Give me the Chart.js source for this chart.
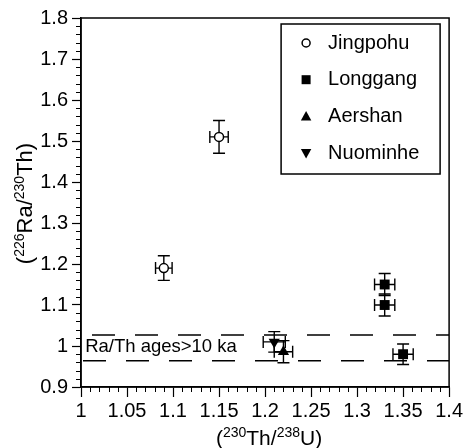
<!DOCTYPE html>
<html>
<head>
<meta charset="utf-8">
<script src="https://cdn.jsdelivr.net/npm/chart.js@4.4.0/dist/chart.umd.min.js"></script>
<style>
  body { margin: 0; background: #fff; }
  #wrap { width: 465px; height: 448px; }
</style>
</head>
<body>
<div id="wrap"><canvas id="myChart"></canvas></div>
<script>
// values
const seriesNames = ['Jingpohu', 'Longgang', 'Aershan', 'Nuominhe']

const jingpohuX = [1.09, 1.15]
const jingpohuY = [1.19, 1.51]
const jingpohuErrX = [0.009, 0.01]
const jingpohuErrY = [0.03, 0.04]

const longgangX = [1.33, 1.33, 1.35]
const longgangY = [1.15, 1.10, 0.98]
const longgangErrX = [0.011, 0.011, 0.011]
const longgangErrY = [0.027, 0.027, 0.025]

const aershanX = [1.22]
const aershanY = [0.986]
const aershanErrX = [0.01]
const aershanErrY = [0.027]

const nuominheX = [1.21]
const nuominheY = [1.01]
const nuominheErrX = [0.012]
const nuominheErrY = [0.025]

// Ra/Th equilibrium band
const bandUpper = 1.027
const bandLower = 0.964
const bandText = 'Ra/Th ages>10 ka'

const xTitle = [['(', 0], ['230', 1], ['Th/', 0], ['238', 1], ['U)', 0]]
const yTitle = [['(', 0], ['226', 1], ['Ra/', 0], ['230', 1], ['Th)', 0]]

const FONT = '"Liberation Sans", Arial, sans-serif'

function pts(xs, ys){
    return xs.map((x, i) => ({x: x, y: ys[i]}))
}

function drawMarker(ctx, style, x, y, r){
    ctx.save()
    ctx.beginPath()
    if (style === 'circle'){
        ctx.arc(x, y, r, 0, Math.PI * 2)
        ctx.fillStyle = '#fff'
        ctx.fill()
        ctx.lineWidth = 1.5
        ctx.strokeStyle = '#000'
        ctx.stroke()
    } else if (style === 'rect'){
        ctx.fillStyle = '#000'
        ctx.fillRect(x - r, y - r, 2 * r, 2 * r)
    } else {
        const d = style === 'up' ? 1 : -1
        ctx.moveTo(x, y - d * r)
        ctx.lineTo(x + r * 0.95, y + d * r * 0.75)
        ctx.lineTo(x - r * 0.95, y + d * r * 0.75)
        ctx.closePath()
        ctx.fillStyle = '#000'
        ctx.fill()
    }
    ctx.restore()
}

function drawSupText(ctx, parts, size, supSize){
    // draws centred at 0, baseline 0
    let w = 0
    parts.forEach(p => {
        ctx.font = (p[1] ? supSize : size) + 'px ' + FONT
        w += ctx.measureText(p[0]).width
    })
    let x = -w / 2
    parts.forEach(p => {
        ctx.font = (p[1] ? supSize : size) + 'px ' + FONT
        ctx.fillText(p[0], x, p[1] ? -size * 0.38 : 0)
        x += ctx.measureText(p[0]).width
    })
}

const extras = {
    id: 'extras',
    beforeDatasetsDraw(chart){
        const ctx = chart.ctx
        const xs = chart.scales.x
        const ys = chart.scales.y
        ctx.save()
        ctx.strokeStyle = '#000'
        ctx.lineWidth = 1.4
        chart.data.datasets.forEach(ds => {
            if (!ds.errX) return
            ds.data.forEach((p, i) => {
                const px = xs.getPixelForValue(p.x)
                const py = ys.getPixelForValue(p.y)
                const x0 = xs.getPixelForValue(p.x - ds.errX[i])
                const x1 = xs.getPixelForValue(p.x + ds.errX[i])
                const y0 = ys.getPixelForValue(p.y - ds.errY[i])
                const y1 = ys.getPixelForValue(p.y + ds.errY[i])
                const c = 6
                ctx.beginPath()
                ctx.moveTo(x0, py); ctx.lineTo(x1, py)
                ctx.moveTo(x0, py - c); ctx.lineTo(x0, py + c)
                ctx.moveTo(x1, py - c); ctx.lineTo(x1, py + c)
                ctx.moveTo(px, y0); ctx.lineTo(px, y1)
                ctx.moveTo(px - c, y0); ctx.lineTo(px + c, y0)
                ctx.moveTo(px - c, y1); ctx.lineTo(px + c, y1)
                ctx.stroke()
            })
        })
        ctx.restore()
    },
    afterDraw(chart){
        const ctx = chart.ctx
        const a = chart.chartArea
        const xs = chart.scales.x
        const ys = chart.scales.y
        ctx.save()
        ctx.strokeStyle = '#000'
        ctx.fillStyle = '#000'

        /* marco del grafico */
        ctx.lineWidth = 1.5
        ctx.strokeRect(a.left, a.top, a.right - a.left, a.bottom - a.top)

        /* ticks menores */
        ctx.lineWidth = 1
        ctx.beginPath()
        for (let i = 1; i < 40; i++){
            if (i % 5 === 0) continue
            const px = Math.round(xs.getPixelForValue(1 + i * 0.01)) + 0.5
            ctx.moveTo(px, a.bottom); ctx.lineTo(px, a.bottom + 5)
        }
        for (let i = 1; i < 45; i++){
            if (i % 5 === 0) continue
            const py = Math.round(ys.getPixelForValue(0.9 + i * 0.02)) + 0.5
            ctx.moveTo(a.left - 5, py); ctx.lineTo(a.left, py)
        }
        ctx.stroke()

        /* texto de la banda */
        ctx.font = '18.5px ' + FONT
        ctx.textBaseline = 'alphabetic'
        ctx.fillText(bandText, xs.getPixelForValue(1.0045), ys.getPixelForValue(0.985))

        /* titulos de los ejes */
        ctx.save()
        ctx.translate((a.left + a.right) / 2 + 4, 445)
        drawSupText(ctx, xTitle, 21, 14)
        ctx.restore()
        ctx.save()
        ctx.translate(32, (a.top + a.bottom) / 2 + 1)
        ctx.rotate(-Math.PI / 2)
        drawSupText(ctx, yTitle, 22, 14)
        ctx.restore()

        /* leyenda */
        const bx = a.right - 168, by = a.top + 6, bw = 159, bh = 150
        ctx.lineWidth = 1.5
        ctx.fillStyle = '#fff'
        ctx.fillRect(bx, by, bw, bh)
        ctx.strokeRect(bx, by, bw, bh)
        const styles = ['circle', 'rect', 'up', 'down']
        const sizes = [4, 4.5, 5.5, 5.5]
        ctx.font = '20px ' + FONT
        ctx.textBaseline = 'middle'
        seriesNames.forEach((name, i) => {
            const cy = by + 19 + i * 36.7
            drawMarker(ctx, styles[i], bx + 25, cy, sizes[i])
            ctx.fillStyle = '#000'
            ctx.fillText(name, bx + 47, cy)
        })
        ctx.restore()
    }
}

function grafico(){
    const ctx = document.getElementById('myChart')

    const bandLine = (y, offset) => ({
        label: 'band',
        data: [{x: 1, y: y}, {x: 1.4, y: y}],
        showLine: true,
        borderColor: '#000',
        borderWidth: 1.5,
        borderDash: [23, 20],
        borderDashOffset: offset,
        pointRadius: 0
    })

    const fmt = v => String(Math.round(v * 100) / 100)

    new Chart(ctx, {
        type: 'scatter',
        data: {
            datasets: [
                bandLine(bandUpper, 32),
                bandLine(bandLower, 41),
                {
                    label: seriesNames[0],
                    data: pts(jingpohuX, jingpohuY),
                    errX: jingpohuErrX, errY: jingpohuErrY,
                    pointStyle: 'circle', pointRadius: 4.5,
                    backgroundColor: '#fff', borderColor: '#000', borderWidth: 1.5
                },
                {
                    label: seriesNames[1],
                    data: pts(longgangX, longgangY),
                    errX: longgangErrX, errY: longgangErrY,
                    pointStyle: 'rect', pointRadius: 7,
                    backgroundColor: '#000', borderColor: '#000', borderWidth: 0
                },
                {
                    label: seriesNames[2],
                    data: pts(aershanX, aershanY),
                    errX: aershanErrX, errY: aershanErrY,
                    pointStyle: 'triangle', pointRadius: 6.5,
                    backgroundColor: '#000', borderColor: '#000', borderWidth: 0
                },
                {
                    label: seriesNames[3],
                    data: pts(nuominheX, nuominheY),
                    errX: nuominheErrX, errY: nuominheErrY,
                    pointStyle: 'triangle', rotation: 180, pointRadius: 6.5,
                    backgroundColor: '#000', borderColor: '#000', borderWidth: 0
                }
            ]
        },
        options: {
            responsive: true,
            maintainAspectRatio: false,
            animation: false,
            layout: { padding: { left: 0, top: 18, right: 15, bottom: 0 } },
            plugins: {
                legend: { display: false },
                tooltip: { enabled: false }
            },
            scales: {
                x: {
                    type: 'linear',
                    min: 1, max: 1.4,
                    afterFit: s => { s.height = 61 },
                    ticks: { stepSize: 0.05, color: '#000', font: { family: FONT, size: 20 }, padding: 2, maxRotation: 0, callback: fmt },
                    grid: { drawOnChartArea: false, tickLength: 10, tickColor: '#000', tickWidth: 1.2 },
                    border: { color: '#000', width: 1.5 }
                },
                y: {
                    min: 0.9, max: 1.8,
                    afterFit: s => { s.width = 81 },
                    ticks: { stepSize: 0.1, color: '#000', font: { family: FONT, size: 20 }, padding: 4, callback: fmt },
                    grid: { drawOnChartArea: false, tickLength: 9, tickColor: '#000', tickWidth: 1.2 },
                    border: { color: '#000', width: 1.5 }
                }
            }
        },
        plugins: [extras]
    })
}

grafico()
</script>
</body>
</html>
